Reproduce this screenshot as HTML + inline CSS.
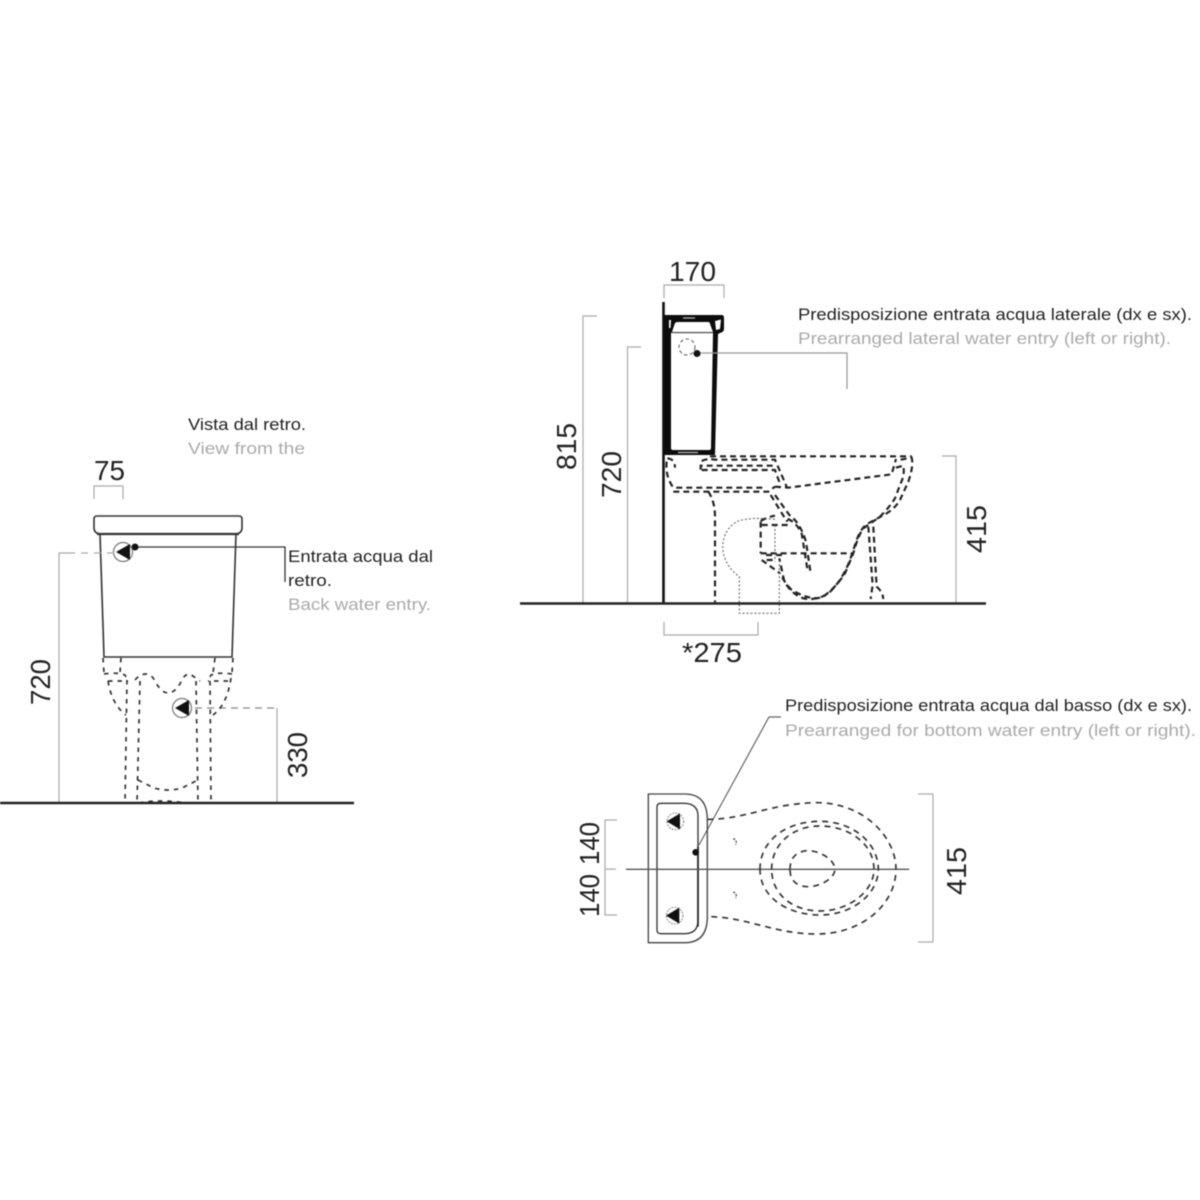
<!DOCTYPE html>
<html><head><meta charset="utf-8">
<style>
html,body{margin:0;padding:0;background:#fff}
svg{display:block;filter:blur(.4px)}
text{font-family:"Liberation Sans",sans-serif;fill:#222}
.g{fill:#aaa}
.n{font-size:28px;fill:#222}
.t{font-size:17px}
</style></head>
<body>
<svg width="1200" height="1200" viewBox="0 0 1200 1200" xmlns="http://www.w3.org/2000/svg">
<rect width="1200" height="1200" fill="#fff"/>

<!-- LEFT VIEW -->
<text class="t" x="188" y="430" textLength="118" lengthAdjust="spacingAndGlyphs">Vista dal retro.</text>
<text class="t g" x="188" y="454" textLength="117" lengthAdjust="spacingAndGlyphs">View from the</text>
<text class="n" x="94" y="480" textLength="31" lengthAdjust="spacingAndGlyphs">75</text>
<path d="M94 499V486H123V499" fill="none" stroke="#aaa" stroke-width="1.2"/>
<path d="M94 519Q94 516 97 516H239Q242 516 242 519V528Q242 533 236 534H100Q94 533 94 528Z" fill="#fff" stroke="#333" stroke-width="1.6"/>
<path d="M100 534L104 657H232L236 534" fill="none" stroke="#333" stroke-width="1.6"/>
<path d="M97 534H239" stroke="#333" stroke-width="2.2"/>
<path d="M135 547H285V582" fill="none" stroke="#333" stroke-width="1.3"/>
<circle cx="135" cy="547" r="3.5" fill="#111"/>
<circle cx="123" cy="552" r="9.5" fill="#fff" stroke="#777" stroke-width="1.2"/>
<path d="M116 552L130 544V560Z" fill="#111"/>
<circle cx="182" cy="708" r="9.5" fill="#fff" stroke="#777" stroke-width="1.2"/>
<path d="M175 708L189 700V716Z" fill="#111"/>
<path d="M59 803V553H68" fill="none" stroke="#aaa" stroke-width="1.2"/>
<path d="M68 553H114" fill="none" stroke="#aaa" stroke-width="1.2" stroke-dasharray="7 6"/>
<path d="M195 708H277" fill="none" stroke="#888" stroke-width="1.2" stroke-dasharray="7 5"/>
<path d="M277 708V803" fill="none" stroke="#aaa" stroke-width="1.2"/>
<g fill="none" stroke="#333" stroke-width="1.7" stroke-dasharray="4.500 5">
<path d="M103 658L104 673M121 658L120 673M215 658L213 673M233 658L232 673"/>
<path d="M104 674Q118 672 125 675L128 681M108 681H128M232 674Q218 672 211 675L208 681M228 681H208"/>
<path d="M127 680L125 803M140 681L137 803M196 681L198 803M210 681L211 803"/>
<path d="M108 681Q112 705 126 715M231 678Q227 705 213 715"/>
<path d="M135 680Q140 674 146 674Q152 674 156 683Q162 693 168 693Q175 693 181 682Q184 674 190 674L200 681"/>
<path d="M138 780L154 788Q168 792 182 788L198 780M139 803Q160 799 185 803"/>
</g>
<path d="M0 803H354" stroke="#222" stroke-width="2.4"/>
<text class="n" transform="translate(50 705) rotate(-90)" textLength="46" lengthAdjust="spacingAndGlyphs">720</text>
<text class="n" transform="translate(307 778) rotate(-90)" textLength="46" lengthAdjust="spacingAndGlyphs">330</text>
<text class="t" x="288" y="562" textLength="145" lengthAdjust="spacingAndGlyphs">Entrata acqua dal</text>
<text class="t" x="288" y="586" textLength="44" lengthAdjust="spacingAndGlyphs">retro.</text>
<text class="t g" x="288" y="610" textLength="143" lengthAdjust="spacingAndGlyphs">Back water entry.</text>

<!-- SIDE VIEW -->
<text class="n" x="669" y="281" textLength="47" lengthAdjust="spacingAndGlyphs">170</text>
<path d="M664 298V285H724V298" fill="none" stroke="#aaa" stroke-width="1.2"/>
<path d="M597 316H583V603M641 347H627.5V603M942 456H956V603" fill="none" stroke="#aaa" stroke-width="1.2"/>
<path d="M664 622V635H758V622" fill="none" stroke="#aaa" stroke-width="1.2"/>
<text class="n" transform="translate(576 470) rotate(-90)" textLength="47" lengthAdjust="spacingAndGlyphs">815</text>
<text class="n" transform="translate(621 498) rotate(-90)" textLength="47" lengthAdjust="spacingAndGlyphs">720</text>
<text class="n" transform="translate(986 553) rotate(-90)" textLength="48" lengthAdjust="spacingAndGlyphs">415</text>
<text class="n" x="682" y="662" textLength="60" lengthAdjust="spacingAndGlyphs">*275</text>
<text class="t" x="798" y="320" textLength="394" lengthAdjust="spacingAndGlyphs">Predisposizione entrata acqua laterale (dx e sx).</text>
<text class="t g" x="798" y="344" textLength="373" lengthAdjust="spacingAndGlyphs">Prearranged lateral water entry (left or right).</text>
<path d="M663.500 302V603" stroke="#111" stroke-width="2.600"/>
<path d="M664 315H722Q724 315 724 318V329Q724 332 720 333L718 334L715 455H664Z" fill="#0c0c0c"/>
<path d="M671 333H713L711 448Q711 450 709 450H673Q671 450 671 448Z" fill="#fff"/>
<path d="M672 332L675 323Q676 322 678 322H708Q710 322 710 324L713 332Z" fill="#fff"/>
<path d="M669 320H671L670.500 328H669ZM715 321L721 319.500L720 329L716 330Z" fill="#fff"/>
<path d="M683 318H695M678 452.500H698" stroke="#bbb" stroke-width="1.300"/>
<path d="M671 333H713" stroke="#999" stroke-width="1"/>
<circle cx="687" cy="347" r="8" fill="none" stroke="#666" stroke-width="1.100" stroke-dasharray="3.500 2.500"/>
<path d="M697 353H847V389" fill="none" stroke="#999" stroke-width="1.300"/>
<circle cx="697" cy="353.500" r="3.500" fill="#111"/>

<g transform="translate(660 445) scale(.3333)" fill="none" stroke="#222" stroke-width="6.500" stroke-dasharray="18 12">
<path d="M150 34H755"/>
<path d="M22 40Q45 42 45 68M20 50Q16 85 32 115Q38 130 52 128H310"/>
<path d="M40 140H325L345 125"/>
<path d="M125 48Q140 40 165 44H345L380 125"/>
<path d="M122 74V62H340"/>
<path d="M125 75H345L362 122"/>
<path d="M345 125L385 128L695 88L708 42"/>
<path d="M722 44L755 38Q762 60 745 110L720 165Q705 190 680 205L625 235Q605 245 590 285L570 345Q545 410 505 445Q470 468 430 460Q390 445 372 405L358 340"/>
<path d="M708 68L730 62Q735 90 722 115L705 160Q690 185 660 215L610 250Q595 270 580 325L555 385Q530 425 490 455Q455 470 395 435Q375 415 360 385"/>
<path d="M625 245L638 420L632 462"/>
<path d="M640 245L650 425Q668 440 670 462"/>
<path d="M332 150L375 220Q405 225 425 265L443 378"/>
<path d="M345 150L388 210Q420 232 438 290L452 385"/>
<path d="M145 140Q165 170 165 215V472"/>
<path d="M302 230V325M305 345L360 385"/>
<path d="M302 228Q325 215 345 212M305 240H385L380 225"/>
<path d="M302 325H578"/>
<path d="M318 330H370M320 345H350"/>
</g>
<g transform="translate(510 250) scale(.3333)" fill="none" stroke="#555" stroke-width="3" stroke-dasharray="6 6">
<path d="M795 808Q720 800 680 815Q640 840 638 890Q640 945 688 980V1090H808V930"/>
<path d="M795 825V935"/>
</g>
<path d="M520 603.500H986" stroke="#222" stroke-width="2.400"/>

<!-- TOP VIEW -->
<text class="t" x="785" y="711" textLength="407" lengthAdjust="spacingAndGlyphs">Predisposizione entrata acqua dal basso (dx e sx).</text>
<text class="t g" x="785" y="736" textLength="411" lengthAdjust="spacingAndGlyphs">Prearranged for bottom water entry (left or right).</text>
<path d="M699 845L769 717H781" fill="none" stroke="#666" stroke-width="1.200"/>
<path d="M617 820H605V915H617" fill="none" stroke="#aaa" stroke-width="1.200"/>
<path d="M605 869H616" stroke="#aaa" stroke-width="1.200"/>
<text class="n" transform="translate(599 917) rotate(-90)" textLength="43" lengthAdjust="spacingAndGlyphs">140</text>
<text class="n" transform="translate(599 865) rotate(-90)" textLength="43" lengthAdjust="spacingAndGlyphs">140</text>
<path d="M918 794H933V942H918" fill="none" stroke="#aaa" stroke-width="1.200"/>
<text class="n" transform="translate(966 895) rotate(-90)" textLength="48" lengthAdjust="spacingAndGlyphs">415</text>

<g transform="translate(570 780) scale(.3333)" fill="none">
<path d="M235 42H350Q410 45 412 115V415Q410 485 350 488H235Z" stroke="#444" stroke-width="4"/>
<path d="M272 70H345Q382 72 384 105V425Q382 460 345 461H272Q261 461 261 450V81Q261 70 272 70Z" stroke="#333" stroke-width="4"/>
<path d="M384 200V440" stroke="#222" stroke-width="5"/>
<circle cx="316" cy="124" r="25" stroke="#777" stroke-width="3" stroke-dasharray="5 4"/>
<path d="M290 124L330 100V148Z" fill="#111"/>
<circle cx="314" cy="407" r="25" stroke="#777" stroke-width="3" stroke-dasharray="5 4"/>
<path d="M288 407L328 383V431Z" fill="#111"/>
<circle cx="377" cy="217" r="10" fill="#111"/>
<path d="M168 268H1018" stroke="#555" stroke-width="4"/>
<path d="M103 268H138" stroke="#bbb" stroke-width="3"/>
<g stroke="#333" stroke-width="5" stroke-dasharray="18 15">
<path d="M412 118C530 118 600 70 740 68C880 68 978 170 978 268C978 370 880 462 740 462C610 462 530 410 412 410"/>
<path d="M570 268C570 180 650 124 750 124C850 124 925 190 925 268C925 340 850 405 750 405C650 405 570 350 570 268Z"/>
<path d="M605 268C605 190 670 138 750 138C835 138 912 190 912 268C912 335 835 393 750 393C670 393 605 345 605 268Z"/>
<path d="M660 268C660 225 690 212 715 212C750 212 795 240 795 268C795 295 750 320 715 320C690 320 660 310 660 268Z"/>
</g>
<path d="M490 176Q503 182 497 194M490 336Q503 342 497 354" stroke="#444" stroke-width="4" stroke-dasharray="6 4"/>
</g>
</svg>
</body></html>
